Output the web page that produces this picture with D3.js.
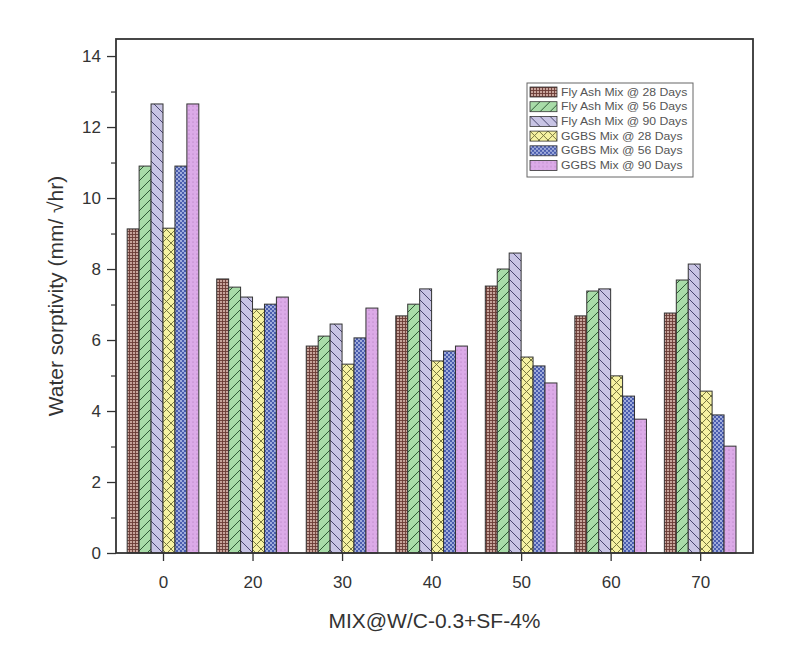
<!DOCTYPE html>
<html>
<head>
<meta charset="utf-8">
<script src="https://cdnjs.cloudflare.com/ajax/libs/d3/7.8.5/d3.min.js"></script>
<style>
body { margin: 0; background: #fff; }
text { font-family: "Liberation Sans", Arial, sans-serif; fill: #333; }
</style>
</head>
<body>
<script>
// values
var categories = ["0", "20", "30", "40", "50", "60", "70"];
var seriesNames = ["Fly Ash Mix @ 28  Days", "Fly Ash Mix @ 56  Days", "Fly Ash Mix @ 90 Days",
		   "GGBS Mix @ 28  Days", "GGBS Mix @ 56  Days", "GGBS Mix @ 90 Days"];
var flyAsh28 = [9.13, 7.72, 5.83, 6.68, 7.52, 6.68, 6.76];
var flyAsh56 = [10.9, 7.49, 6.11, 7.01, 8.0, 7.38, 7.69];
var flyAsh90 = [12.65, 7.21, 6.45, 7.44, 8.45, 7.44, 8.14];
var ggbs28 = [9.15, 6.87, 5.32, 5.41, 5.52, 4.99, 4.56];
var ggbs56 = [10.9, 7.01, 6.06, 5.69, 5.27, 4.42, 3.89];
var ggbs90 = [12.65, 7.21, 6.9, 5.83, 4.79, 3.77, 3.01];
var yTicks = [0, 2, 4, 6, 8, 10, 12, 14];
var yMinor = [1, 3, 5, 7, 9, 11, 13];

var allSeries = [flyAsh28, flyAsh56, flyAsh90, ggbs28, ggbs56, ggbs90];

var W = 788, H = 666;
// (don't call it "top", that's window.top)
var pLeft = 116, pRight = 753, pTop = 39, pBottom = 553;

var svg = d3.select("body").append("svg")
    .attr("width", W)
    .attr("height", H);

var defs = svg.append("defs");

function makePattern(id, size, bg, drawFn) {
    var p = defs.append("pattern")
	.attr("id", id)
	.attr("patternUnits", "userSpaceOnUse")
	.attr("width", size)
	.attr("height", size);
    p.append("rect").attr("width", size).attr("height", size).attr("fill", bg);
    drawFn(p, size);
}

// brown grid
makePattern("p0", 3, "#c8a49b", function(p, s) {
    p.append("path").attr("d", "M0,0.5H3M0.5,0V3")
	.attr("stroke", "#6a3a34").attr("stroke-width", 0.9);
});
// green forward diagonal
makePattern("p1", 10, "#a8dca8", function(p, s) {
    p.append("path").attr("d", "M0,10L10,0M-5,5L5,-5M5,15L15,5")
	.attr("stroke", "#2f5a36").attr("stroke-width", 1);
});
// lavender back diagonal
makePattern("p2", 10, "#c8c4e4", function(p, s) {
    p.append("path").attr("d", "M0,0L10,10M-5,5L5,15M5,-5L15,5")
	.attr("stroke", "#4a4670").attr("stroke-width", 1);
});
// yellow cross hatch
makePattern("p3", 9, "#f6f2a2", function(p, s) {
    p.append("path").attr("d", "M0,0L9,9M9,0L0,9")
	.attr("stroke", "#6b6a34").attr("stroke-width", 0.9);
});
// blue dots
makePattern("p4", 4, "#4a5dae", function(p, s) {
    p.append("circle").attr("cx", 1).attr("cy", 1).attr("r", 0.9).attr("fill", "#c9d2f2");
    p.append("circle").attr("cx", 3).attr("cy", 3).attr("r", 0.9).attr("fill", "#c9d2f2");
});
// pink fine dots
makePattern("p5", 4, "#dcaae8", function(p, s) {
    p.append("circle").attr("cx", 1).attr("cy", 2).attr("r", 0.5).attr("fill", "#9c6aac");
});

var x = d3.scaleLinear()
    .domain([0.475, 7.59])
    .range([pLeft, pRight]);

var y = d3.scaleLinear()
    .domain([0, 14.48])
    .range([pBottom, pTop]);

var groupW = 0.8;
var barW = groupW / allSeries.length;

// bars
allSeries.map(function(vals, s) {
    svg.append("g")
	.attr("class", "series" + s)
	.selectAll("rect")
	.data(vals)
	.enter()
	.append("rect")
	.attr("x", function(d, i) { return x(i + 1 - groupW / 2 + s * barW); })
	.attr("y", function(d) { return y(d); })
	.attr("width", function(d) { return x(barW) - x(0); })
	.attr("height", function(d) { return pBottom - y(d); })
	.attr("fill", "url(#p" + s + ")")
	.attr("stroke", "#333")
	.attr("stroke-width", 1);
});

// y axis
var yAxis = svg.append("g")
    .attr("transform", "translate(" + pLeft + ",0)")
    .call(d3.axisLeft(y).tickValues(yTicks).tickSize(9).tickPadding(6).tickFormat(d3.format("d")));
yAxis.select(".domain").remove();
yAxis.selectAll("line").attr("stroke", "#333").attr("stroke-width", 1.3);
yAxis.selectAll("text")
    .style("font-size", "17px")
    .style("font-family", "Liberation Sans, Arial, sans-serif")
    .attr("fill", "#333");

svg.append("g")
    .attr("transform", "translate(" + pLeft + ",0)")
    .call(d3.axisLeft(y).tickValues(yMinor).tickSize(5).tickFormat(""))
    .call(function(g) { g.select(".domain").remove(); })
    .selectAll("line").attr("stroke", "#333").attr("stroke-width", 1.2);

// x axis
var xAxis = svg.append("g")
    .attr("transform", "translate(0," + pBottom + ")")
    .call(d3.axisBottom(x).tickValues(d3.range(1, categories.length + 1))
	  .tickSize(8).tickPadding(15)
	  .tickFormat(function(d) { return categories[d - 1]; }));
xAxis.select(".domain").remove();
xAxis.selectAll("line").attr("stroke", "#333").attr("stroke-width", 1.3);
xAxis.selectAll("text")
    .style("font-size", "17px")
    .style("font-family", "Liberation Sans, Arial, sans-serif")
    .attr("fill", "#333");

// frame
svg.append("rect")
    .attr("x", pLeft)
    .attr("y", pTop)
    .attr("width", pRight - pLeft)
    .attr("height", pBottom - pTop)
    .attr("fill", "none")
    .attr("stroke", "#333")
    .attr("stroke-width", 1.8);

// axis titles
svg.append("text")
    .attr("transform", "translate(63," + (pTop + pBottom) / 2 + ") rotate(-90)")
    .attr("text-anchor", "middle")
    .style("font-size", "21px")
    .text("Water sorptivity (mm/ \u221Ahr)");

svg.append("text")
    .attr("x", (pLeft + pRight) / 2)
    .attr("y", 628)
    .attr("text-anchor", "middle")
    .style("font-size", "21px")
    .text("MIX@W/C-0.3+SF-4%");

// legend
var legend = svg.append("g").attr("class", "legend");
legend.append("rect")
    .attr("x", 527)
    .attr("y", 83)
    .attr("width", 166)
    .attr("height", 94)
    .attr("fill", "#fff")
    .attr("stroke", "#666")
    .attr("stroke-width", 1);

var rows = legend.selectAll("g.row")
    .data(seriesNames)
    .enter()
    .append("g")
    .attr("class", "row")
    .attr("transform", function(d, i) { return "translate(530," + (87 + i * 14.7) + ")"; });

rows.append("rect")
    .attr("width", 27)
    .attr("height", 10)
    .attr("fill", function(d, i) { return "url(#p" + i + ")"; })
    .attr("stroke", "#333")
    .attr("stroke-width", 0.8);

// legend text is stretched wide in the original
rows.append("text")
    .attr("x", 31)
    .attr("y", 8.5)
    .style("font-size", "10px")
    .style("fill", "#555")
    .text(function(d) { return d; })
    .each(function() {
	var w = this.getComputedTextLength();
	d3.select(this).attr("textLength", w * 1.22).attr("lengthAdjust", "spacingAndGlyphs");
    });
</script>
</body>
</html>
